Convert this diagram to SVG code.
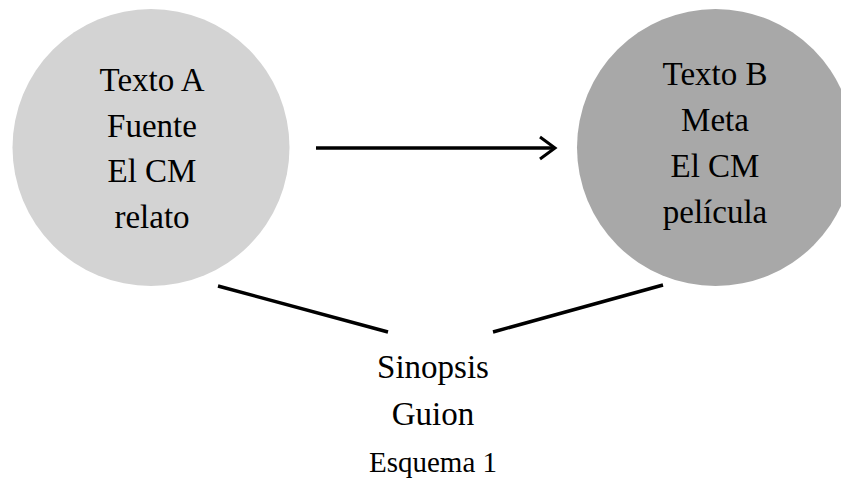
<svg xmlns="http://www.w3.org/2000/svg" width="841" height="479" viewBox="0 0 841 479">
<style>
text{font-family:"Liberation Serif","Times New Roman",serif;fill:#000;text-anchor:middle}
.t{font-size:33px}
.s{font-size:29px}
.c{stroke:#000;stroke-width:3.5;fill:none}
</style>
<defs>
<marker id="ah" markerWidth="20" markerHeight="30" refX="17" refY="12" orient="auto" markerUnits="userSpaceOnUse" viewBox="0 0 20 24">
<path d="M2 1 L17 12 L2 23" fill="none" stroke="#000" stroke-width="3"/>
</marker>
</defs>
<rect width="841" height="479" fill="#fff"/>
<g id="nodeA">
<circle cx="151" cy="147.5" r="138.5" fill="#d3d3d3"/>
<text class="t" x="152" y="91">Texto A</text>
<text class="t" x="152" y="137">Fuente</text>
<text class="t" x="152" y="182">El CM</text>
<text class="t" x="152" y="228">relato</text>
</g>
<g id="nodeB">
<circle cx="715.5" cy="147.5" r="138.5" fill="#a8a8a8"/>
<text class="t" x="715" y="85">Texto B</text>
<text class="t" x="715" y="131">Meta</text>
<text class="t" x="715" y="177">El CM</text>
<text class="t" x="715" y="223">película</text>
</g>
<g id="nodeC">
<text class="t" x="433" y="378">Sinopsis</text>
<text class="t" x="433" y="425">Guion</text>
<text class="s" x="433" y="472">Esquema 1</text>
</g>
<g id="connectors">
<line class="c" x1="316" y1="148" x2="555" y2="148" marker-end="url(#ah)"/>
<line class="c" x1="218" y1="286" x2="388" y2="332"/>
<line class="c" x1="493" y1="332" x2="663" y2="285"/>
</g>
</svg>
